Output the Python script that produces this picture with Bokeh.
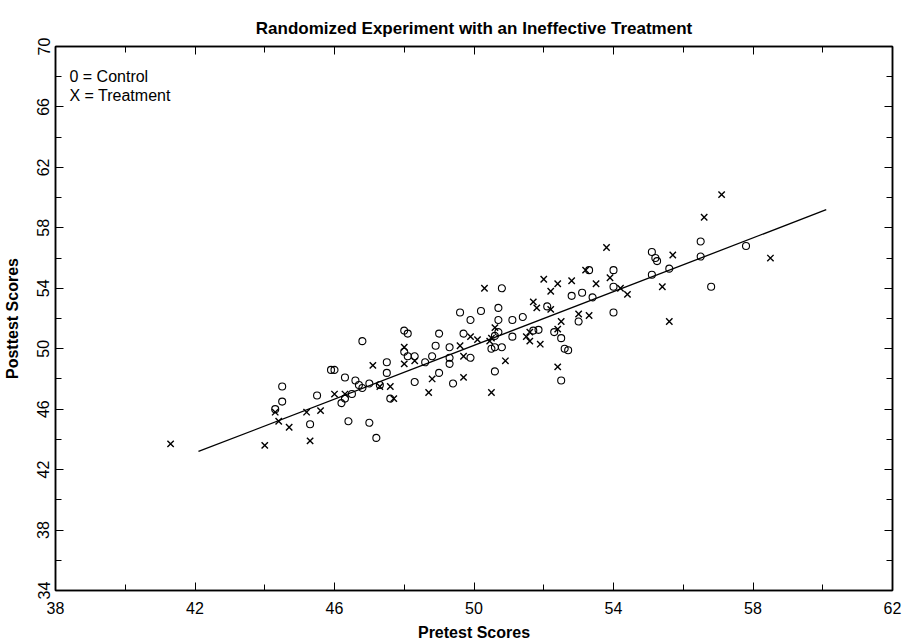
from bokeh.plotting import figure
from bokeh.models import LinearAxis, FixedTicker, Label, Range1d, CustomJSTickFormatter
from bokeh.embed import file_html
from bokeh.resources import INLINE

# ---- data ----
control_x = [45.3, 44.3, 44.5, 44.5, 45.5, 46.2, 46.3, 46.5, 46.3, 45.9, 46.0, 46.6, 46.8, 47.0,
             47.3, 47.5, 47.5, 46.8, 48.0, 48.1, 46.4, 47.0, 47.2, 47.6, 46.7,
             50.8, 52.8, 53.1, 52.1, 49.6, 50.2, 50.7, 49.9, 50.7, 51.1, 51.4, 53.0, 52.3, 52.5,
             49.0, 49.7, 50.7, 51.1, 51.7, 51.85, 50.5, 50.6, 50.8, 48.9, 49.3, 52.6, 52.7,
             48.0, 48.1, 48.3, 48.6, 48.8, 49.3, 49.3, 49.9, 50.6, 49.0, 48.3, 49.4, 52.5, 50.6,
             56.5, 57.8, 55.1, 55.2, 55.25, 56.5, 55.6, 55.1, 56.8, 53.3, 54.0, 54.0, 53.4, 54.0]
control_y = [45.0, 46.0, 46.5, 47.5, 46.9, 46.4, 46.7, 47.0, 48.1, 48.6, 48.6, 47.9, 47.4, 47.7,
             47.6, 48.4, 49.1, 50.5, 51.2, 51.0, 45.2, 45.1, 44.1, 46.7, 47.6,
             54.0, 53.5, 53.7, 52.8, 52.4, 52.5, 52.7, 51.9, 51.9, 51.9, 52.1, 51.8, 51.1, 50.7,
             51.0, 51.0, 51.1, 50.8, 51.2, 51.25, 50.0, 50.1, 50.1, 50.2, 50.1, 50.0, 49.9,
             49.8, 49.5, 49.5, 49.1, 49.5, 49.4, 49.0, 49.4, 48.5, 48.4, 47.8, 47.7, 47.9, 50.85,
             57.1, 56.8, 56.4, 56.0, 55.8, 56.1, 55.3, 54.9, 54.1, 55.2, 55.2, 54.1, 53.4, 52.4]

treat_x = [41.3, 44.0, 45.3, 44.7, 44.4, 44.3, 45.2, 45.6, 46.0, 46.3, 47.1, 47.3, 47.6, 47.7,
           48.0, 48.0, 48.3, 48.8, 48.7, 49.6, 49.7, 49.7, 49.9, 50.1, 50.3, 50.5, 50.45,
           50.6, 50.5, 50.9, 51.5, 51.6, 51.6, 51.9, 51.7, 51.8, 52.2, 52.2, 52.0, 52.4, 52.8,
           53.2, 53.0, 52.5, 52.4, 52.4, 53.3, 53.5, 53.8, 53.9, 54.2, 54.4, 55.4, 55.6, 55.7,
           56.6, 57.1, 58.5]
treat_y = [43.7, 43.6, 43.9, 44.8, 45.2, 45.8, 45.8, 45.9, 47.0, 47.0, 48.9, 47.5, 47.5, 46.7,
           49.0, 50.1, 49.2, 48.0, 47.1, 50.2, 49.5, 48.1, 50.8, 50.6, 54.0, 50.7, 50.5,
           51.4, 47.1, 49.2, 50.8, 51.1, 50.5, 50.3, 53.1, 52.7, 52.6, 53.8, 54.6, 54.3, 54.5,
           55.2, 52.3, 51.8, 51.3, 48.8, 52.2, 54.3, 56.7, 54.7, 54.0, 53.6, 54.1, 51.8, 56.2,
           58.7, 60.2, 56.0]

fit_x = [42.1, 60.1]
fit_y = [43.2, 59.2]

x_major = [38, 42, 46, 50, 54, 58, 62]
x_minor = [40, 44, 48, 52, 56, 60]
y_major = [34, 38, 42, 46, 50, 54, 58, 62, 66, 70]
y_minor = [36, 40, 44, 48, 52, 56, 60, 64, 68]

FONT = "Liberation Sans"

p = figure(width=906, height=643, output_backend="svg", toolbar_location=None,
           x_range=Range1d(x_major[0], x_major[-1]), y_range=Range1d(y_major[0], y_major[-1]),
           min_border_left=55, min_border_right=14, min_border_top=46, min_border_bottom=53,
           background_fill_color="white", border_fill_color="white")

p.title.text = "Randomized Experiment with an Ineffective Treatment"
p.title.align = "center"
p.title.text_font = FONT
p.title.text_font_size = "17px"
p.title.text_font_style = "bold"
p.title.text_color = "black"
p.title.standoff = 17

p.xgrid.visible = False
p.ygrid.visible = False
p.outline_line_color = "black"
p.outline_line_width = 1.5

def style_axis(ax, major, minor, labels=True):
    ax.ticker = FixedTicker(ticks=major, minor_ticks=minor)
    ax.axis_line_color = "black"
    ax.axis_line_width = 1.5
    ax.major_tick_in = 8
    ax.major_tick_out = 0
    ax.minor_tick_in = 6
    ax.minor_tick_out = 0
    ax.major_tick_line_color = "black"
    ax.minor_tick_line_color = "black"
    ax.major_label_text_font = FONT
    ax.major_label_text_font_size = "16px"
    ax.major_label_text_color = "black"
    ax.axis_label_text_font = FONT
    ax.axis_label_text_font_size = "16px"
    ax.axis_label_text_font_style = "bold"
    ax.axis_label_text_color = "black"
    if not labels:
        ax.formatter = CustomJSTickFormatter(code="return ''")
        ax.major_label_standoff = 0

p.xaxis.axis_label = "Pretest Scores"
p.yaxis.axis_label = "Posttest Scores"
style_axis(p.xaxis[0], x_major, x_minor)
style_axis(p.yaxis[0], y_major, y_minor)
p.xaxis.major_label_standoff = 11
p.xaxis.axis_label_standoff = 7
p.yaxis.major_label_orientation = "vertical"
p.yaxis.major_label_standoff = 6
p.yaxis.axis_label_standoff = 14

top = LinearAxis()
style_axis(top, x_major, x_minor, labels=False)
p.add_layout(top, "above")
right = LinearAxis()
style_axis(right, y_major, y_minor, labels=False)
p.add_layout(right, "right")

p.line(fit_x, fit_y, line_color="black", line_width=1.3)
p.scatter(control_x, control_y, marker="circle", size=7, fill_color=None,
          line_color="black", line_width=1.1)
p.scatter(treat_x, treat_y, marker="x", size=9, line_color="black", line_width=1.4)

p.add_layout(Label(x=38.4, y=68.0, text="0 = Control", text_baseline="middle",
                   text_font=FONT, text_font_size="16px", text_color="black"))
p.add_layout(Label(x=38.4, y=66.75, text="X = Treatment", text_baseline="middle",
                   text_font=FONT, text_font_size="16px", text_color="black"))

open("out.html", "w").write(file_html(p, INLINE))
